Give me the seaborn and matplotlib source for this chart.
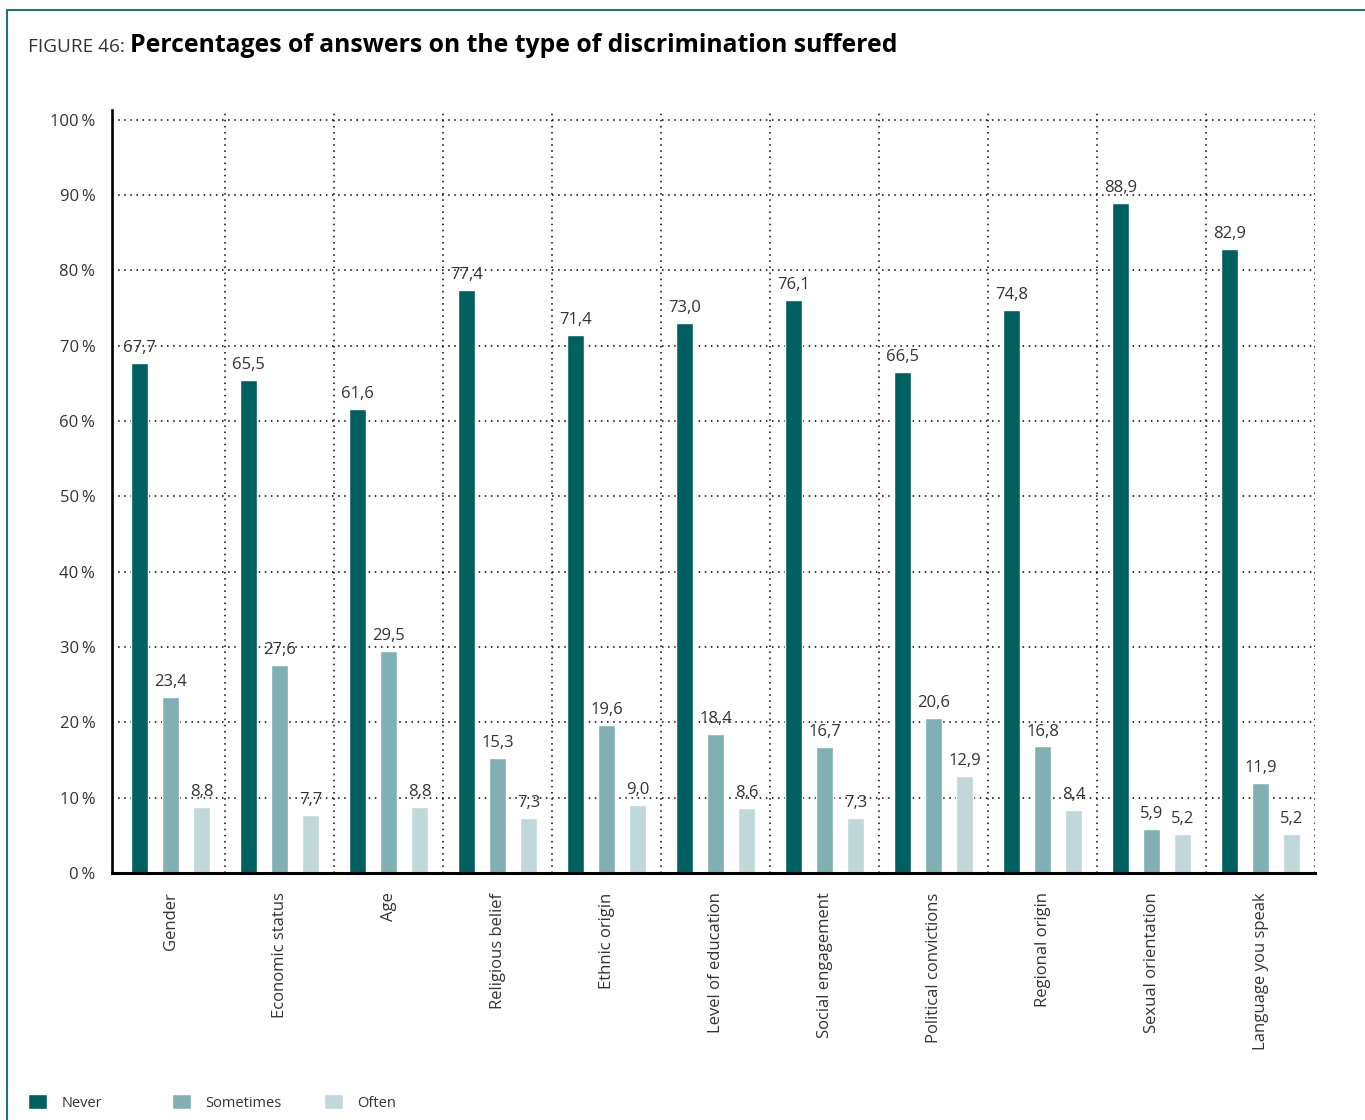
import numpy as np
import pandas as pd
import matplotlib
matplotlib.use("Agg")
import matplotlib.pyplot as plt
from matplotlib.lines import Line2D
import seaborn as sns

categories = ["Gender", "Economic status", "Age", "Religious belief", "Ethnic origin",
              "Level of education", "Social engagement", "Political convictions",
              "Regional origin", "Sexual orientation", "Language you speak"]
never = [67.7, 65.5, 61.6, 77.4, 71.4, 73.0, 76.1, 66.5, 74.8, 88.9, 82.9]
sometimes = [23.4, 27.6, 29.5, 15.3, 19.6, 18.4, 16.7, 20.6, 16.8, 5.9, 11.9]
often = [8.8, 7.7, 8.8, 7.3, 9.0, 8.6, 7.3, 12.9, 8.4, 5.2, 5.2]
responses = ["Never", "Sometimes", "Often"]
colors = ["#00605f", "#80b0b3", "#c0d8da"]
yticks = [0, 10, 20, 30, 40, 50, 60, 70, 80, 90, 100]

df = pd.DataFrame({
    "category": categories * 3,
    "response": [r for r in responses for _ in categories],
    "value": never + sometimes + often,
})

sns.set_theme(style="white")
plt.rcParams["font.family"] = ["Open Sans", "DejaVu Sans"]
TXT = "#333333"

fig = plt.figure(figsize=(13.65, 11.2), dpi=100)
ax = fig.add_axes([112 / 1365, 1 - 873 / 1120, (1315 - 112) / 1365, (873 - 110) / 1120])

sns.barplot(data=df, x="category", y="value", hue="response", order=categories,
            hue_order=responses, palette=colors, width=0.853, gap=0.48,
            saturation=1, legend=True, ax=ax, errorbar=None)

ax.set_xlim(-0.537, 10.5)
ax.set_ylim(0, 101.3)
ax.set_xlabel("")
ax.set_ylabel("")

# value labels with decimal comma
for cont in ax.containers:
    vals = cont.datavalues
    ax.bar_label(cont, labels=[f"{v:.1f}".replace(".", ",") for v in vals],
                 padding=5, fontsize=12, color=TXT)

# axes ticks
ax.set_yticks(yticks)
ax.set_yticklabels([f"{v}\u2009%" for v in yticks], fontsize=12, color=TXT,
                   va="center_baseline")
ax.set_xticks(range(len(categories)))
ax.set_xticklabels(categories, rotation=90, fontsize=12, color=TXT, va="top", ha="center")
ax.set_xticks(np.arange(0.5, len(categories), 1), minor=True)
ax.tick_params(axis="x", which="both", length=0, pad=14)
ax.tick_params(axis="y", which="both", length=0, pad=12)

# dotted grid
dot = dict(color="black", linewidth=1.1, linestyle=(0, (1, 3)))
ax.grid(False)
ax.grid(True, which="major", axis="y", **dot)
ax.grid(True, which="minor", axis="x", **dot)
ax.set_axisbelow(True)

for s in ["top", "right"]:
    ax.spines[s].set_visible(False)
ax.spines["left"].set_color("black")
ax.spines["left"].set_linewidth(1.9)
ax.spines["bottom"].set_color("black")
ax.spines["bottom"].set_linewidth(2.2)

# legend: three separate entries placed along the bottom
handles, labels = ax.get_legend_handles_labels()
ax.get_legend().remove()
for h, lab, x in zip(handles, labels, [24, 168, 320]):
    lg = fig.legend([h], [lab], loc="lower left", bbox_to_anchor=(x / 1365, 1 - 1115 / 1120),
                    frameon=False, fontsize=10.5, handlelength=1.25, handleheight=1.25,
                    handletextpad=1.0, borderaxespad=0, borderpad=0.3)
    for t in lg.get_texts():
        t.set_color(TXT)

# title
t1 = fig.text(28 / 1365, 1 - 52 / 1120, "FIGURE 46: ", fontsize=13.7, color=TXT, va="baseline")
fig.canvas.draw()
bb = t1.get_window_extent()
fig.text(bb.x1 / 1365, 1 - 52 / 1120, "Percentages of answers on the type of discrimination suffered",
         fontsize=17.8, fontweight="bold", color="black", va="baseline")

# frame
fc = "#1f7474"
fig.add_artist(Line2D([7 / 1365, 1], [1 - 10 / 1120, 1 - 10 / 1120], color=fc, lw=1.5,
                      transform=fig.transFigure))
fig.add_artist(Line2D([7 / 1365, 7 / 1365], [0, 1 - 10 / 1120], color=fc, lw=1.5,
                      transform=fig.transFigure))

fig.savefig("out.png", dpi=100, facecolor="white")
